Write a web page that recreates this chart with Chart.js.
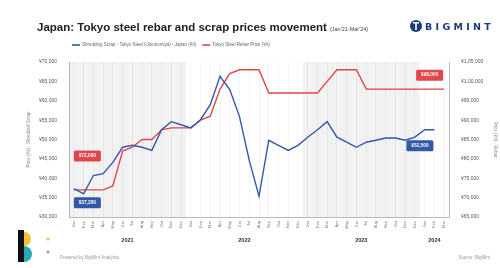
<!DOCTYPE html>
<html>
<head>
<meta charset="utf-8">
<script src="https://cdn.jsdelivr.net/npm/chart.js@4.4.1/dist/chart.umd.min.js"></script>
<style>
  html, body { margin: 0; padding: 0; background: #fff; }
  #c { display: block; }
</style>
</head>
<body>
<canvas id="c" width="500" height="268"></canvas>
<script>
// monthly points, Jan'21 - Mar'24
const monthLabels = [
  'Jan','Feb','Mar','Apr','May','Jun','Jul','Aug','Sep','Oct','Nov','Dec',
  'Jan','Feb','Mar','Apr','May','Jun','Jul','Aug','Sep','Oct','Nov','Dec',
  'Jan','Feb','Mar','Apr','May','Jun','Jul','Aug','Sep','Oct','Nov','Dec',
  'Jan','Feb','Mar'
];
const yearLabels = ['2021', '2022', '2023', '2024'];
const yearStarts = [0, 12, 24, 36];

// Shredded scrap (left axis), yen per tonne
const scrapPrices = [
  37300, 36000, 40700, 41200, 44100, 48000, 48500, 48000, 47200, 52500, 54600, 53800,
  53000, 55100, 59000, 66300, 62900, 55900, 44600, 35400, 49800, 48500, 47200, 48500,
  50600, 52500, 54600, 50600, 49300, 48000, 49300, 49800, 50400, 50400, 49800, 50600,
  52500, 52500, null
];
// Rebar (right axis), yen per tonne
const rebarPrices = [
  72000, 72000, 72000, 72000, 73000, 82000, 83000, 85000, 85000, 87500, 88000, 88000,
  88000, 90000, 91000, 98000, 102000, 103000, 103000, 103000, 97000, 97000, 97000, 97000,
  97000, 97000, 100000, 103000, 103000, 103000, 98000, 98000, 98000, 98000, 98000, 98000,
  98000, 98000, 98000
];

const scrapName = 'Shredding Scrap - Tokyo Steel (Utsunomiya) - Japan (¥/t)';
const rebarName = 'Tokyo Steel Rebar Price (¥/t)';
const blue = '#3458a8';
const red = '#e0464b';

function yen(v) {
  return '¥' + Math.round(v).toLocaleString('en-IN');
}

const decorPlugin = {
  id: 'decor',
  beforeDatasetsDraw(chart) {
    const ctx = chart.ctx;
    const x = chart.scales.x;
    const area = chart.chartArea;
    const step = x.width / monthLabels.length;
    ctx.save();
    yearStarts.forEach((s, k) => {
      if (k % 2 === 1) return;
      const end = k + 1 < yearStarts.length ? yearStarts[k + 1] : monthLabels.length;
      const left = x.getPixelForValue(s) - step / 2;
      const right = x.getPixelForValue(end - 1) + step / 2;
      ctx.fillStyle = 'rgba(0,0,0,0.05)';
      ctx.fillRect(left, area.top, right - left, area.bottom - area.top);
    });
    ctx.restore();
  },
  afterDraw(chart) {
    const ctx = chart.ctx;
    const x = chart.scales.x;
    const yl = chart.scales.yLeft;
    const yr = chart.scales.yRight;
    ctx.save();

    // title
    ctx.textBaseline = 'alphabetic';
    ctx.fillStyle = '#222';
    ctx.font = 'bold 11.5px "Liberation Sans", Arial, sans-serif';
    const title = 'Japan: Tokyo steel rebar and scrap prices movement';
    ctx.fillText(title, 37, 31);
    const tw = ctx.measureText(title).width;
    ctx.font = '5.5px "Liberation Sans", Arial, sans-serif';
    ctx.fillStyle = '#444';
    ctx.fillText("(Jan'21-Mar'24)", 37 + tw + 3, 31);

    // BigMint logo
    ctx.fillStyle = '#1e3a78';
    ctx.beginPath();
    ctx.arc(416, 26, 6, 0, Math.PI * 2);
    ctx.fill();
    ctx.fillStyle = '#fff';
    ctx.fillRect(413, 22, 6, 1.5);
    ctx.fillRect(415.2, 22, 1.6, 8);
    ctx.fillStyle = '#1e3a78';
    ctx.font = 'bold 9.5px "DejaVu Sans", sans-serif';
    ctx.fillText('B I G M I N T', 425, 30);

    // legend
    ctx.font = '4.5px "Liberation Sans", Arial, sans-serif';
    ctx.textBaseline = 'middle';
    let lx = 72;
    const ly = 45;
    ctx.fillStyle = blue;
    ctx.fillRect(lx, ly - 0.8, 8, 1.6);
    ctx.fillStyle = '#666';
    ctx.fillText(scrapName, lx + 10, ly);
    lx += 10 + ctx.measureText(scrapName).width + 6;
    ctx.fillStyle = red;
    ctx.fillRect(lx, ly - 0.8, 8, 1.6);
    ctx.fillStyle = '#666';
    ctx.fillText(rebarName, lx + 10, ly);

    // year labels
    ctx.font = 'bold 5.5px "Liberation Sans", Arial, sans-serif';
    ctx.fillStyle = '#333';
    ctx.textAlign = 'center';
    yearStarts.forEach((s, k) => {
      const end = k + 1 < yearStarts.length ? yearStarts[k + 1] : monthLabels.length;
      const cx = (x.getPixelForValue(s) + x.getPixelForValue(end - 1)) / 2;
      ctx.fillText(yearLabels[k], cx, 240);
    });

    // callouts
    function callout(text, left, cy, color) {
      const w = 27, h = 11;
      ctx.fillStyle = color;
      ctx.beginPath();
      ctx.roundRect(left, cy - h / 2, w, h, 1.5);
      ctx.fill();
      ctx.fillStyle = '#fff';
      ctx.font = 'bold 4.8px "Liberation Sans", Arial, sans-serif';
      ctx.textAlign = 'center';
      ctx.textBaseline = 'middle';
      ctx.fillText(text, left + w / 2, cy);
    }
    const lastScrap = scrapPrices.reduce((a, v, i) => (v !== null ? i : a), 0);
    const lastRebar = rebarPrices.length - 1;
    callout(yen(rebarPrices[0]), x.getPixelForValue(0), yr.getPixelForValue(rebarPrices[0]) - 34, red);
    callout(yen(scrapPrices[0]), x.getPixelForValue(0), yl.getPixelForValue(scrapPrices[0]) + 14, blue);
    callout(yen(rebarPrices[lastRebar]), x.getPixelForValue(lastRebar) - 28, yr.getPixelForValue(rebarPrices[lastRebar]) - 14, red);
    callout(yen(scrapPrices[lastScrap]), x.getPixelForValue(lastScrap) - 28, yl.getPixelForValue(scrapPrices[lastScrap]) + 16, blue);

    // footer
    ctx.textAlign = 'left';
    ctx.textBaseline = 'alphabetic';
    ctx.fillStyle = '#f2c230';
    ctx.beginPath();
    ctx.arc(24, 239, 7, -Math.PI / 2, Math.PI / 2);
    ctx.fill();
    ctx.fillStyle = '#2aa7b8';
    ctx.beginPath();
    ctx.arc(24, 254, 8, -Math.PI / 2, Math.PI / 2);
    ctx.fill();
    ctx.fillStyle = '#111';
    ctx.fillRect(18, 230, 6, 32);
    ctx.fillStyle = '#d8c860';
    ctx.beginPath();
    ctx.arc(48, 239, 1.6, 0, Math.PI * 2);
    ctx.fill();
    ctx.fillStyle = '#8aa0c0';
    ctx.beginPath();
    ctx.arc(48, 252, 1.6, 0, Math.PI * 2);
    ctx.fill();
    ctx.font = '4.5px "Liberation Sans", Arial, sans-serif';
    ctx.fillStyle = '#999';
    ctx.fillText('Powered by BigMint Analytics', 60, 259);
    ctx.textAlign = 'right';
    ctx.fillText('Source: BigMint', 490, 259);
    ctx.restore();
  }
};

new Chart(document.getElementById('c'), {
  type: 'line',
  data: {
    labels: monthLabels,
    datasets: [
      {
        label: scrapName,
        data: scrapPrices,
        yAxisID: 'yLeft',
        borderColor: blue,
        backgroundColor: blue,
        borderWidth: 1.4,
        pointRadius: 0,
        tension: 0
      },
      {
        label: rebarName,
        data: rebarPrices,
        yAxisID: 'yRight',
        borderColor: red,
        backgroundColor: red,
        borderWidth: 1.4,
        pointRadius: 0,
        tension: 0
      }
    ]
  },
  options: {
    responsive: false,
    animation: false,
    devicePixelRatio: 1,
    layout: { padding: { top: 62, left: 24, right: 0, bottom: 0 } },
    plugins: {
      legend: { display: false },
      title: { display: false },
      tooltip: { enabled: false }
    },
    scales: {
      x: {
        offset: true,
        grid: { color: '#ececec', lineWidth: 0.6, drawTicks: true, tickLength: 3, offset: false },
        border: { color: '#bbb' },
        ticks: {
          autoSkip: false,
          minRotation: 90,
          maxRotation: 90,
          padding: 1,
          color: '#777',
          font: { size: 4, family: '"Liberation Sans", Arial, sans-serif' }
        },
        afterFit(s) { s.height = 51; }
      },
      yLeft: {
        position: 'left',
        min: 30000,
        max: 70000,
        grid: { display: false },
        border: { color: '#bbb' },
        ticks: {
          stepSize: 5000,
          padding: 4,
          color: '#555',
          font: { size: 5, family: '"Liberation Sans", Arial, sans-serif' },
          callback: v => yen(v)
        },
        title: {
          display: true,
          text: 'Price (¥/t) - Shredded Scrap',
          color: '#888',
          font: { size: 4.5, family: '"Liberation Sans", Arial, sans-serif' },
          padding: 2
        },
        afterFit(s) { s.width = 45; }
      },
      yRight: {
        position: 'right',
        min: 65000,
        max: 105000,
        grid: { display: false },
        border: { color: '#bbb' },
        ticks: {
          stepSize: 5000,
          padding: 4,
          color: '#555',
          font: { size: 5, family: '"Liberation Sans", Arial, sans-serif' },
          callback: v => yen(v)
        },
        title: {
          display: true,
          text: 'Price (¥/t) - Rebar',
          color: '#888',
          font: { size: 4.5, family: '"Liberation Sans", Arial, sans-serif' },
          padding: 2
        },
        afterFit(s) { s.width = 51; }
      }
    }
  },
  plugins: [decorPlugin]
});
</script>
</body>
</html>
